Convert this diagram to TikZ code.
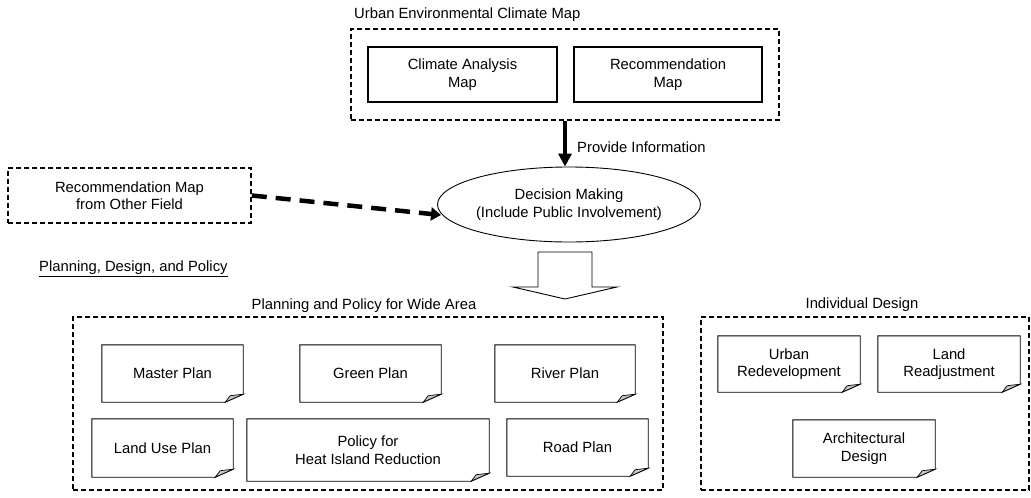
\documentclass[tikz,border=0pt]{standalone}
\usepackage{fontspec}
\setmainfont{Liberation Sans}
\usetikzlibrary{arrows.meta,shapes.geometric}
\begin{document}
\begin{tikzpicture}[x=1pt,y=-1pt,
  every node/.style={font=\fontsize{14.8}{17.5}\selectfont, align=center, inner sep=0pt},
  group/.style={draw, line width=1.6pt, dash pattern=on 5pt off 3pt},
  mapbox/.style={draw, line width=1.3pt},
  planbox/.style={},
  titletext/.style={},
  provide/.style={line width=4pt, -{Triangle[width=13pt,length=13pt]}},
  otherarrow/.style={line width=4.5pt, dash pattern=on 15pt off 9pt, -{Triangle[width=13pt,length=10pt]}},
  note/.style={line width=0.9pt},
  curl/.style={line width=0.7pt, fill=gray!45}
]
\useasboundingbox (0,0) rectangle (1031,498);

% top group
\node[group, minimum width=428pt, minimum height=91pt] (topg) at (565,74.5) {};
\node[titletext, anchor=west] (toptitle) at (354,15) {Urban Environmental Climate Map};
\node[mapbox, minimum width=189pt, minimum height=55pt] (cam) at (462.5,74.5) {Climate Analysis\\Map};
\node[mapbox, minimum width=188pt, minimum height=55pt] (rm) at (668,74.5) {Recommendation\\Map};

% decision making
\node[draw, ellipse, line width=0.9pt, minimum width=244pt, minimum height=75pt] (dm) at (569,204.5) {Decision Making\\(Include Public Involvement)};
\draw[provide] (topg.south) -- (topg.south |- dm.north);
\node[anchor=west] (provlabel) at (577,147) {Provide Information};

% other field
\node[group, minimum width=243pt, minimum height=55pt] (other) at (129.5,195.5) {Recommendation Map\\from Other Field};
\coordinate (dmin) at (441,215);
\draw[otherarrow] (other.east) -- (dmin);

% planning label
\node[anchor=west] (pdp) at (39,269) {\underline{Planning, Design, and Policy}};

% block arrow
\coordinate (ba) at (565,252);
\draw[line width=0.9pt, fill=white] (ba) ++(-27,0) -- ++(54,0) -- ++(0,35) -- ++(25,0) -- (565,299) -- (513,287) -- ++(25,0) -- cycle;

% wide area group
\node[group, minimum width=590pt, minimum height=173pt] (wide) at (368,403.5) {};
\node (widetitle) at (364,306) {Planning and Policy for Wide Area};
\node[minimum width=141pt, minimum height=57pt] (master) at (172.5,373.5) {Master Plan};
\node[minimum width=141pt, minimum height=57pt] (green) at (370.5,373.5) {Green Plan};
\node[minimum width=140pt, minimum height=57pt] (river) at (565,373.5) {River Plan};
\node[minimum width=141pt, minimum height=58pt] (landuse) at (162.5,448) {Land Use Plan};
\node[minimum width=242pt, minimum height=62pt] (policy) at (368,450) {Policy for\\Heat Island Reduction};
\node[minimum width=141pt, minimum height=57pt] (road) at (577.5,447.5) {Road Plan};

% individual group
\node[group, minimum width=328pt, minimum height=173pt] (indiv) at (865,403.5) {};
\node (indivtitle) at (862,305) {Individual Design};
\node[minimum width=142pt, minimum height=56pt] (urban) at (789,364) {Urban\\Redevelopment};
\node[minimum width=142pt, minimum height=56pt] (landre) at (949,364) {Land\\Readjustment};
\node[minimum width=142pt, minimum height=57pt] (arch) at (864,448.5) {Architectural\\Design};

% note outlines with curled corner
\foreach \n in {master,green,river,landuse,policy,road,urban,landre,arch}{
  \draw[note] (\n.north west) -- (\n.north east) -- ([yshift=8pt]\n.south east)
     -- ([xshift=-18pt]\n.south east) -- (\n.south west) -- cycle;
  \draw[curl] ([xshift=-18pt]\n.south east) -- ([xshift=-13pt,yshift=6.5pt]\n.south east)
     -- ([yshift=8pt]\n.south east) -- cycle;
}
\end{tikzpicture}
\end{document}
